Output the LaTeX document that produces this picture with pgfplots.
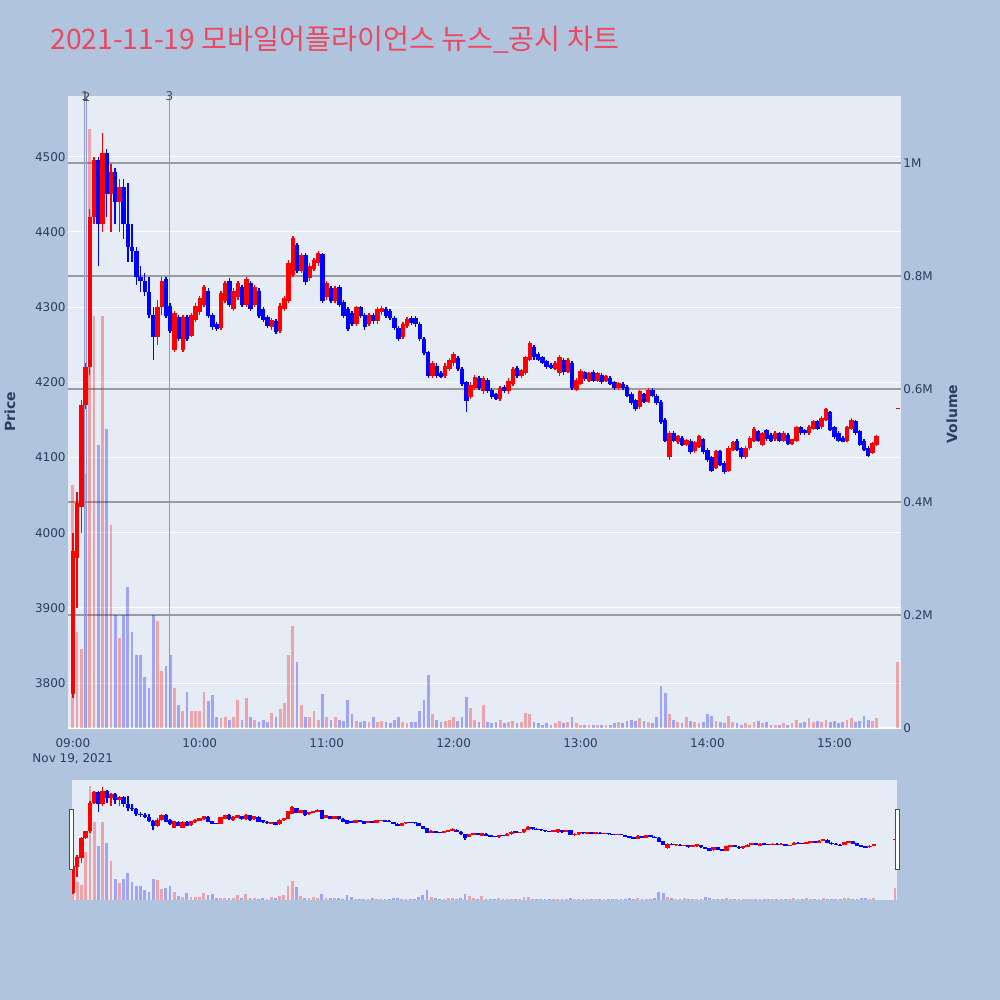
\documentclass[border=0pt]{standalone}
\usepackage{fontspec}
\setmainfont{DejaVu Sans}
\newfontfamily\krfont{Noto Sans CJK KR}
\usepackage{pgfplots}
\usepackage{pgfplotstable}
\pgfplotsset{compat=1.18}

\definecolor{pagebg}{RGB}{176,196,222}
\definecolor{plotbg}{RGB}{229,236,246}
\definecolor{tickc}{RGB}{42,63,95}
\definecolor{titlec}{RGB}{235,72,98}
\definecolor{upc}{RGB}{255,0,0}
\definecolor{dnc}{RGB}{0,0,255}
\definecolor{vgrid}{RGB}{155,155,155}
\definecolor{markl}{RGB}{140,150,215}

% t = minutes after 09:00, 2-minute candles
\pgfplotstableread{
t o h l c v
0 3785 4000 3780 3975 0.43
2 3966 4054 3900 4040 0.17
4 4034 4177 4000 4170 0.14
6 4170 4225 4165 4220 0.45
8 4220 4430 4210 4420 1.06
10 4420 4500 4410 4495 0.73
12 4495 4500 4354 4410 0.50
14 4410 4532 4400 4505 0.73
16 4505 4510 4420 4450 0.53
18 4450 4490 4400 4480 0.36
20 4480 4485 4410 4440 0.20
22 4440 4470 4400 4460 0.16
24 4460 4470 4390 4410 0.20
26 4410 4465 4360 4380 0.25
28 4380 4410 4360 4375 0.17
30 4375 4380 4330 4340 0.13
32 4340 4355 4320 4335 0.13
34 4335 4345 4315 4320 0.09
36 4320 4340 4285 4290 0.07
38 4290 4300 4230 4260 0.20
40 4260 4310 4250 4300 0.19
42 4300 4340 4290 4335 0.10
44 4337 4340 4285 4288 0.11
46 4302 4305 4265 4268 0.13
48 4243 4295 4240 4292 0.07
50 4287 4290 4255 4258 0.04
52 4243 4290 4240 4287 0.03
54 4287 4290 4255 4258 0.064
56 4262 4292 4260 4290 0.03
58 4283 4305 4280 4302 0.03
60 4293 4315 4290 4312 0.03
62 4303 4330 4300 4327 0.064
64 4322 4325 4285 4288 0.047
66 4290 4292 4270 4273 0.059
68 4277 4280 4268 4271 0.02
70 4272 4322 4270 4319 0.018
72 4308 4335 4305 4332 0.02
74 4335 4338 4300 4303 0.015
76 4298 4325 4295 4322 0.02
78 4313 4335 4310 4332 0.05
80 4327 4330 4300 4303 0.015
82 4303 4340 4300 4337 0.053
84 4332 4335 4295 4298 0.02
86 4303 4330 4300 4327 0.015
88 4322 4325 4285 4288 0.01
90 4297 4300 4280 4283 0.015
92 4287 4290 4272 4275 0.01
94 4273 4286 4270 4283 0.027
96 4282 4284 4264 4267 0.02
98 4268 4305 4266 4302 0.033
100 4298 4315 4295 4312 0.044
102 4308 4362 4305 4359 0.13
104 4343 4395 4340 4392 0.18
106 4382 4385 4345 4348 0.117
108 4348 4372 4345 4369 0.04
110 4369 4372 4330 4333 0.02
112 4338 4358 4335 4355 0.02
114 4351 4365 4348 4362 0.03
116 4358 4375 4355 4372 0.015
118 4370 4372 4305 4308 0.06
120 4313 4335 4310 4332 0.02
122 4325 4328 4305 4308 0.015
124 4308 4328 4305 4325 0.02
126 4327 4330 4300 4303 0.015
128 4307 4310 4285 4288 0.012
130 4297 4300 4268 4271 0.05
132 4292 4295 4275 4278 0.025
134 4278 4302 4275 4300 0.012
136 4300 4302 4285 4288 0.01
138 4290 4292 4270 4273 0.012
140 4278 4292 4275 4289 0.01
142 4289 4292 4278 4281 0.02
144 4281 4300 4278 4297 0.01
146 4293 4302 4290 4299 0.012
148 4298 4300 4285 4288 0.01
150 4295 4298 4283 4285 0.008
152 4285 4288 4270 4272 0.015
154 4272 4275 4255 4258 0.02
156 4260 4280 4258 4277 0.01
158 4275 4287 4272 4284 0.008
160 4285 4288 4276 4279 0.01
162 4285 4288 4274 4277 0.01
164 4278 4280 4255 4258 0.03
166 4258 4260 4236 4239 0.05
168 4240 4242 4205 4208 0.094
170 4208 4228 4205 4225 0.025
172 4222 4225 4205 4208 0.015
174 4212 4215 4205 4207 0.01
176 4208 4225 4205 4222 0.012
178 4218 4232 4215 4229 0.015
180 4225 4240 4222 4237 0.02
182 4232 4235 4215 4218 0.012
184 4218 4220 4195 4198 0.02
186 4200 4202 4160 4175 0.055
188 4181 4200 4178 4197 0.035
190 4193 4210 4190 4207 0.015
192 4205 4208 4190 4193 0.01
194 4188 4208 4185 4205 0.04
196 4203 4206 4186 4189 0.01
198 4190 4192 4178 4181 0.008
200 4184 4186 4176 4178 0.01
202 4178 4195 4175 4192 0.015
204 4194 4196 4186 4188 0.008
206 4188 4205 4185 4202 0.01
208 4198 4220 4195 4217 0.012
210 4219 4222 4205 4208 0.008
212 4208 4218 4206 4216 0.01
214 4212 4235 4210 4233 0.027
216 4230 4255 4228 4252 0.025
218 4247 4250 4230 4233 0.01
220 4237 4240 4228 4230 0.008
222 4233 4235 4224 4226 0.006
224 4228 4230 4218 4220 0.008
226 4223 4225 4218 4219 0.006
228 4218 4228 4216 4226 0.008
230 4212 4236 4208 4234 0.012
232 4230 4232 4210 4213 0.008
234 4214 4232 4212 4230 0.01
236 4226 4228 4190 4192 0.019
238 4190 4205 4188 4203 0.008
240 4198 4217 4196 4215 0.006
242 4213 4215 4202 4204 0.006
244 4202 4214 4200 4212 0.005
246 4214 4216 4200 4202 0.006
248 4202 4214 4200 4212 0.005
250 4210 4212 4198 4200 0.006
252 4202 4210 4200 4208 0.005
254 4206 4208 4196 4198 0.006
256 4200 4202 4190 4192 0.008
258 4192 4200 4190 4199 0.01
260 4198 4200 4190 4192 0.008
262 4194 4196 4180 4182 0.012
264 4185 4187 4170 4172 0.015
266 4176 4178 4162 4164 0.012
268 4167 4190 4165 4188 0.018
270 4184 4186 4172 4174 0.012
272 4174 4192 4172 4190 0.01
274 4190 4192 4180 4182 0.008
276 4182 4184 4170 4172 0.02
278 4174 4176 4145 4147 0.074
280 4150 4152 4120 4122 0.062
282 4100 4135 4097 4133 0.024
284 4133 4135 4120 4122 0.014
286 4120 4130 4118 4128 0.01
288 4126 4128 4115 4117 0.008
290 4117 4125 4115 4123 0.02
292 4122 4124 4105 4107 0.012
294 4108 4122 4106 4120 0.01
296 4114 4130 4112 4128 0.008
298 4124 4126 4105 4107 0.01
300 4110 4112 4094 4096 0.024
302 4100 4102 4080 4082 0.021
304 4086 4110 4084 4108 0.012
306 4108 4110 4088 4090 0.01
308 4093 4095 4078 4080 0.008
310 4082 4115 4080 4113 0.022
312 4110 4122 4108 4120 0.01
314 4122 4124 4108 4110 0.008
316 4112 4114 4098 4100 0.006
318 4100 4115 4098 4113 0.008
320 4112 4128 4110 4126 0.006
322 4122 4140 4120 4138 0.01
324 4135 4137 4120 4122 0.012
326 4117 4134 4115 4132 0.008
328 4136 4138 4122 4124 0.01
330 4130 4132 4120 4122 0.006
332 4124 4135 4122 4133 0.005
334 4132 4134 4120 4122 0.006
336 4122 4135 4120 4133 0.008
338 4130 4132 4116 4118 0.006
340 4118 4125 4116 4124 0.008
342 4122 4142 4120 4140 0.015
344 4140 4142 4130 4132 0.008
346 4136 4138 4130 4132 0.01
348 4132 4143 4130 4141 0.018
350 4138 4150 4136 4148 0.01
352 4148 4150 4136 4138 0.012
354 4140 4155 4138 4153 0.01
356 4150 4166 4148 4164 0.015
358 4160 4162 4135 4137 0.01
360 4140 4142 4125 4127 0.012
362 4133 4135 4120 4122 0.008
364 4126 4128 4120 4121 0.01
366 4122 4142 4120 4141 0.015
368 4138 4152 4136 4150 0.018
370 4148 4150 4130 4132 0.01
372 4135 4136 4115 4117 0.012
374 4122 4124 4108 4110 0.021
376 4113 4115 4100 4102 0.015
378 4106 4120 4104 4119 0.012
380 4117 4130 4115 4128 0.018
390 4164 4166 4164 4166 0.116
}\ohlc

% #1 colour, #2 domain of c-o, #3 body width, #4 wick width
% wick and body are quiver segments from low to high and from open to close
\newcommand{\drawcandles}[4]{%
  \addplot[draw=#1, line width=#4, mark=none, forget plot,
    restrict expr to domain={\thisrow{c}-\thisrow{o}}{#2},
    quiver={u=0, v=\thisrow{h}-\thisrow{l}}]
    table[x=t, y=l] {\ohlc};
  \addplot[draw=#1, line width=#3, mark=none, forget plot,
    restrict expr to domain={\thisrow{c}-\thisrow{o}}{#2},
    quiver={u=0, v=\thisrow{c}-\thisrow{o}}]
    table[x=t, y=o] {\ohlc};
}
\newcommand{\drawvolume}[3]{%
  \addplot[ycomb, mark=none, forget plot, draw=#1, draw opacity=0.3, line width=#3,
    restrict expr to domain={\thisrow{c}-\thisrow{o}}{#2}]
    table[x=t, y=v] {\ohlc};
}

\begin{document}
\begin{tikzpicture}
\path[use as bounding box] (0,0) rectangle (500pt,500pt);
\fill[pagebg] (0,0) rectangle (500pt,500pt);
\fill[plotbg] (34pt,136pt) rectangle (450.5pt,452pt);
\fill[plotbg] (36pt,50pt) rectangle (448.5pt,110pt);

\pgfplotsset{mainbox/.style={at={(34pt,136pt)}, anchor=south west, scale only axis,
  width=416.5pt, height=316pt, xmin=-2.3, xmax=391.5}}

% price grid and labels
\begin{axis}[mainbox, ymin=3740.2, ymax=4580.7,
  axis line style={draw=none}, major tick length=0pt,
  ytick={3800,3900,4000,4100,4200,4300,4400,4500},
  yticklabels={3800,3900,4000,4100,4200,4300,4400,4500},
  ymajorgrids, grid style={white, line width=0.5pt},
  xtick={0,60,120,180,240,300,360},
  xticklabels={09:00,10:00,11:00,12:00,13:00,14:00,15:00},
  tick label style={font=\fontsize{6}{7}\selectfont, text=tickc},
  yticklabel style={inner xsep=1pt},
  xticklabel style={yshift=-1.8pt}]
\end{axis}

% volume
\begin{axis}[mainbox, ymin=0, ymax=1.1185,
  axis line style={draw=none}, major tick length=0pt,
  xtick=\empty, yticklabel pos=right,
  ytick={0.2,0.4,0.6,0.8,1.0},
  yticklabels={0.2M,0.4M,0.6M,0.8M,1M},
  extra y ticks={0}, extra y tick labels={0},
  extra y tick style={grid style={white, line width=0.6pt}},
  ymajorgrids, grid style={vgrid, line width=0.8pt},
  tick label style={font=\fontsize{6}{7}\selectfont, text=tickc},
  yticklabel style={inner xsep=1pt}]
  \drawvolume{upc}{0:100000}{1.4pt}
  \drawvolume{dnc}{-100000:-0.0001}{1.4pt}
\end{axis}

% candles
\begin{axis}[mainbox, ymin=3740.2, ymax=4580.7, hide axis]
  \draw[markl, line width=0.5pt] (axis cs:5.7,3740.2) -- (axis cs:5.7,4580.7);
  \draw[markl, line width=0.5pt] (axis cs:6.5,3740.2) -- (axis cs:6.5,4580.7);
  \draw[markl, line width=0.5pt] (axis cs:45.6,3740.2) -- (axis cs:45.6,4580.7);
  \drawcandles{dnc}{-100000:-0.0001}{2.2pt}{0.7pt}
  \drawcandles{upc}{0:100000}{2.2pt}{0.7pt}
\end{axis}

% range slider
\pgfplotsset{slidebox/.style={at={(36pt,50pt)}, anchor=south west, scale only axis,
  width=412.5pt, height=60pt, xmin=-0.5, xmax=391, hide axis}}
\begin{axis}[slidebox, ymin=0, ymax=1.12]
  \drawvolume{upc}{0:100000}{1.4pt}
  \drawvolume{dnc}{-100000:-0.0001}{1.4pt}
\end{axis}
\begin{axis}[slidebox, ymin=3738, ymax=4579]
  \drawcandles{dnc}{-100000:-0.0001}{2.2pt}{0.8pt}
  \drawcandles{upc}{0:100000}{2.2pt}{0.8pt}
\end{axis}
\filldraw[fill=white, draw=black!70, line width=0.5pt] (34.6pt,65pt) rectangle (36.6pt,95pt);
\filldraw[fill=white, draw=black!70, line width=0.5pt] (447.6pt,65pt) rectangle (449.6pt,95pt);

% texts
\node[anchor=base west, font=\krfont\fontsize{14.1}{16}\selectfont, text=titlec, inner sep=0pt]
  at (25pt,475pt) {2021-11-19 모바일어플라이언스 뉴스\_공시 차트};
\node[font=\fontsize{6}{7}\selectfont, text=tickc] at (36.4pt,120.5pt) {Nov 19, 2021};
\node[font=\bfseries\fontsize{7}{8}\selectfont, text=tickc, rotate=90, inner sep=0pt] at (5pt,294pt) {Price};
\node[font=\bfseries\fontsize{7}{8}\selectfont, text=tickc, rotate=90, inner sep=0pt] at (476pt,293pt) {Volume};
\node[font=\fontsize{6}{7}\selectfont, text=black!70, inner sep=0pt] at (42.5pt,451.7pt) {1};
\node[font=\fontsize{6}{7}\selectfont, text=black!70, inner sep=0pt] at (43.4pt,451.7pt) {2};
\node[font=\fontsize{6}{7}\selectfont, text=black!70, inner sep=0pt] at (84.7pt,451.7pt) {3};
\end{tikzpicture}
\end{document}
